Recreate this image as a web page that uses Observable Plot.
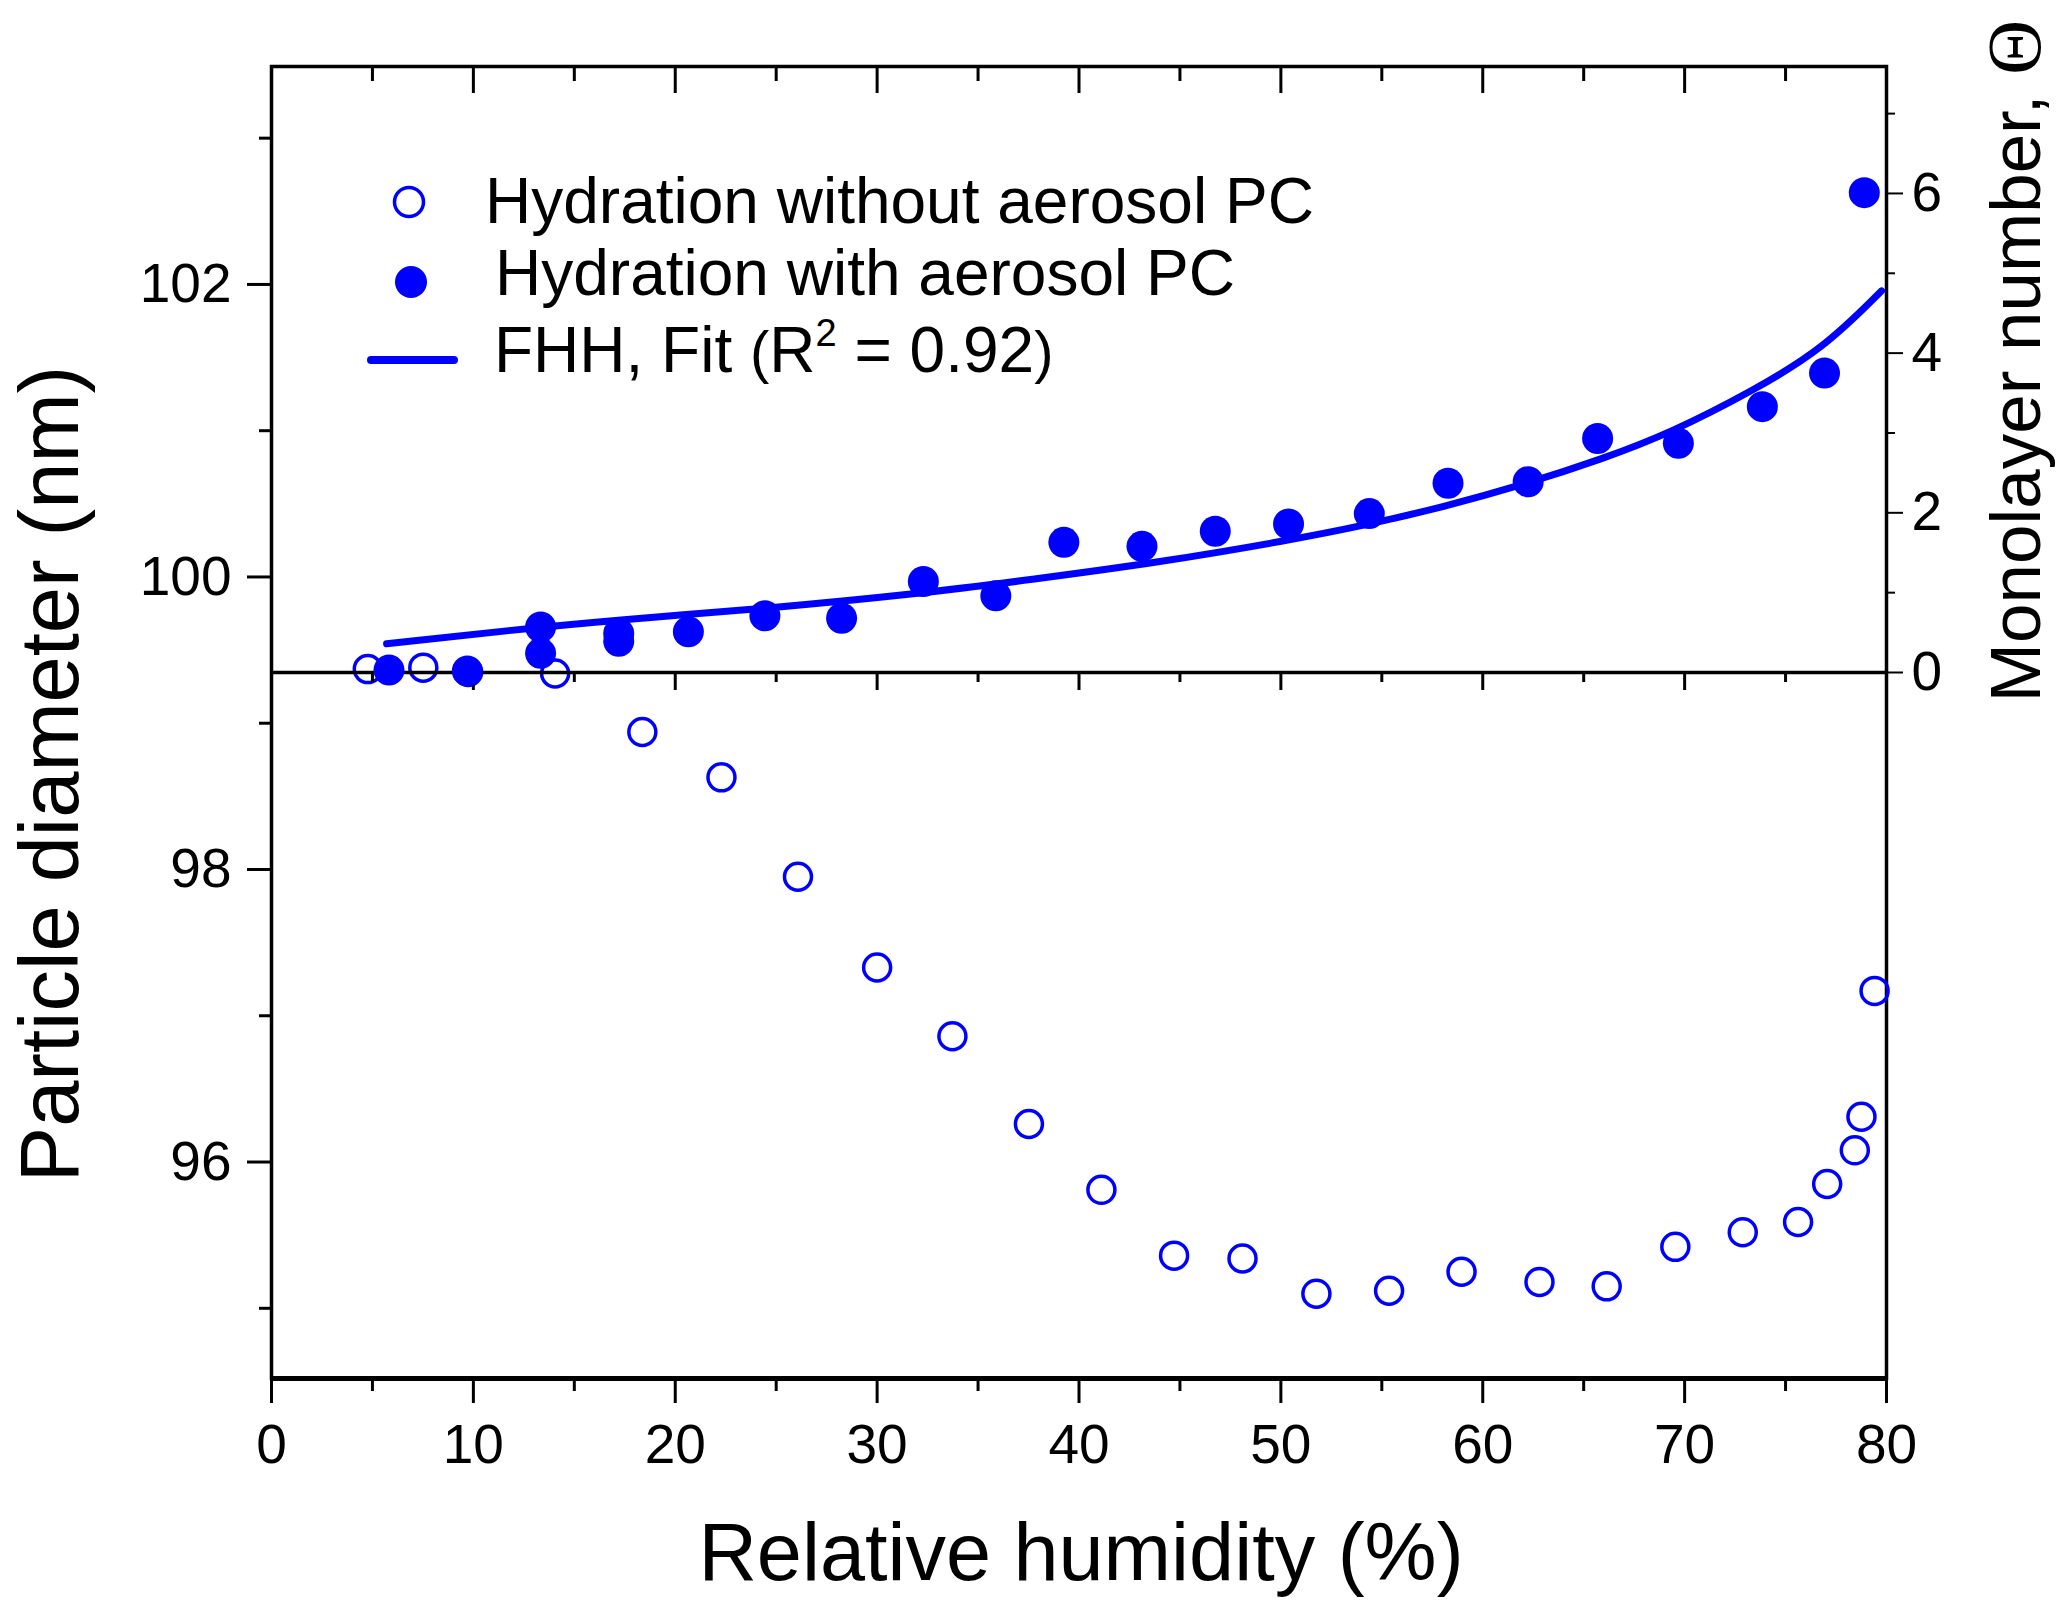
<!DOCTYPE html>
<html>
<head>
<meta charset="utf-8">
<script src="https://cdn.jsdelivr.net/npm/d3@7"></script>
<script src="https://cdn.jsdelivr.net/npm/@observablehq/plot@0.6"></script>
<style>
  html, body { margin: 0; padding: 0; background: #fff; }
  #wrap { position: relative; width: 2067px; height: 1615px; overflow: hidden; }
  #wrap > svg { position: absolute; left: 0; top: 0; }
</style>
</head>
<body>
<div id="wrap"></div>
<script>
// ---------- data ----------
const openX = [4.77, 7.52, 9.74, 14.05, 18.37, 22.29, 26.08, 30.0, 33.73, 37.52, 41.11, 44.71, 48.10, 51.76, 55.36, 58.95, 62.81, 66.14, 69.54, 72.88, 75.62, 77.06, 78.43, 78.76, 79.41];
const openD = [99.37, 99.38, 99.35, 99.34, 98.94, 98.63, 97.95, 97.33, 96.86, 96.26, 95.81, 95.36, 95.34, 95.10, 95.12, 95.25, 95.18, 95.15, 95.42, 95.52, 95.59, 95.85, 96.08, 96.31, 97.17];

const filledX = [5.82, 9.70, 13.33, 13.33, 17.2, 17.2, 20.65, 24.44, 28.24, 32.29, 35.88, 39.25, 43.12, 46.75, 50.38, 54.38, 58.28, 62.25, 65.69, 69.69, 73.85, 76.93, 78.9];
const filledT = [0.03, 0.02, 0.57, 0.24, 0.49, 0.39, 0.51, 0.71, 0.68, 1.14, 0.96, 1.63, 1.58, 1.77, 1.86, 1.99, 2.37, 2.39, 2.93, 2.87, 3.33, 3.75, 6.01];

const fitX = [5.7, 13.3, 19.2, 24.4, 32.2, 37.5, 44.0, 50.5, 54.1, 58.0, 62.0, 66.0, 69.3, 73.4, 76.85, 79.76];
const fitT = [0.36, 0.57, 0.70, 0.80, 0.99, 1.16, 1.38, 1.66, 1.84, 2.07, 2.35, 2.68, 3.00, 3.53, 4.05, 4.78];

const xDomain = [0, 80];
const dDomain = [94.52, 103.49];     // particle diameter (nm), full frame
const tDomain = [0, 7.59];           // monolayer number, upper layer
const xMajor = [0, 10, 20, 30, 40, 50, 60, 70, 80];
const xMinor = [5, 15, 25, 35, 45, 55, 65, 75];
const dMajor = [96, 98, 100, 102];
const dMinor = [95, 97, 99, 101, 103];
const tMajor = [0, 2, 4, 6];
const tMinor = [1, 3, 5, 7];

const legendLabels = ["Hydration without aerosol PC", "Hydration with aerosol PC"];
const xTitle = "Relative humidity (%)";
const yTitle = "Particle diameter (nm)";
const y2Title = "Monolayer number, ";

const BLUE = "#0000ff";
const FONT = "'Liberation Sans', Arial, Helvetica, sans-serif";

const openData = openX.map((x, i) => ({x, y: openD[i]}));
const filledData = filledX.map((x, i) => ({x, y: filledT[i]}));
const fitData = fitX.map((x, i) => ({x, y: fitT[i]}));

const W = 2067, H = 1615;
const mL = 271, mR = 181, mT = 66, mB = 237;

// ---------- layer 1: diameter (full frame) ----------
const base = Plot.plot({
  width: W, height: H,
  marginLeft: mL, marginRight: mR, marginTop: mT, marginBottom: mB,
  style: {fontFamily: FONT, fontSize: "55px", background: "transparent", overflow: "visible", color: "#000"},
  x: {domain: xDomain},
  y: {domain: dDomain},
  marks: [
    Plot.axisX(xMajor, {anchor: "bottom", tickSize: 25, tickPadding: 20, strokeWidth: 3, fontSize: 55, label: null, tickFormat: d => String(d)}),
    Plot.axisX(xMinor, {anchor: "bottom", tickSize: 13, strokeWidth: 3, label: null, tickFormat: () => ""}),
    Plot.axisX(xMajor, {anchor: "top", tickSize: -26, strokeWidth: 3, label: null, tickFormat: () => ""}),
    Plot.axisX(xMinor, {anchor: "top", tickSize: -14, strokeWidth: 3, label: null, tickFormat: () => ""}),
    Plot.axisY(dMajor, {anchor: "left", tickSize: 24, tickPadding: 16, strokeWidth: 3, fontSize: 55, label: null, tickFormat: d => String(d)}),
    Plot.axisY(dMinor, {anchor: "left", tickSize: 12, strokeWidth: 3, label: null, tickFormat: () => ""}),
    Plot.frame({stroke: "#000", strokeWidth: 3.5}),
    Plot.ruleY([dDomain[0]], {stroke: "#000", strokeWidth: 5}),
    Plot.dot(openData, {x: "x", y: "y", r: 13.5, stroke: BLUE, strokeWidth: 3.5, fill: "none"})
  ]
});

// ---------- layer 2: monolayer number (upper part) ----------
const H2 = 672 + 40;
const upper = Plot.plot({
  width: W, height: H2,
  marginLeft: mL, marginRight: mR, marginTop: mT, marginBottom: 40,
  style: {fontFamily: FONT, fontSize: "55px", background: "transparent", overflow: "visible", color: "#000"},
  x: {domain: xDomain},
  y: {domain: tDomain},
  marks: [
    Plot.ruleY([0], {stroke: "#000", strokeWidth: 3.5}),
    Plot.axisX(xMajor, {anchor: "bottom", tickSize: 18, strokeWidth: 3, label: null, tickFormat: () => ""}),
    Plot.axisX(xMinor, {anchor: "bottom", tickSize: 10, strokeWidth: 3, label: null, tickFormat: () => ""}),
    Plot.axisY(tMajor, {anchor: "right", tickSize: 16, tickPadding: 9, strokeWidth: 2, fontSize: 55, label: null, tickFormat: d => String(d)}),
    Plot.axisY(tMinor, {anchor: "right", tickSize: 8, strokeWidth: 2, label: null, tickFormat: () => ""}),
    Plot.line(fitData, {x: "x", y: "y", stroke: BLUE, strokeWidth: 7, curve: "basis", strokeLinecap: "round"}),
    Plot.dot(filledData, {x: "x", y: "y", r: 15.5, fill: BLUE, stroke: "none"})
  ]
});

const wrap = document.getElementById("wrap");
wrap.appendChild(base);
wrap.appendChild(upper);

// ---------- titles and legend overlay ----------
const ov = d3.select(wrap).append("svg")
  .attr("width", W).attr("height", H)
  .style("font-family", FONT).style("overflow", "visible");

ov.append("text")
  .attr("x", 1081).attr("y", 1580)
  .attr("text-anchor", "middle").attr("font-size", 81)
  .text(xTitle);

ov.append("text")
  .attr("transform", "translate(78,774) rotate(-90)")
  .attr("text-anchor", "middle").attr("font-size", 83)
  .text(yTitle);

const t2 = ov.append("text")
  .attr("transform", "translate(2040,361) rotate(-90)")
  .attr("text-anchor", "middle").attr("font-size", 71);
t2.append("tspan").text(y2Title);
t2.append("tspan").attr("font-family", "'Liberation Serif', 'DejaVu Serif', serif").attr("font-size", 76).text("Θ");

// legend
const lg = ov.append("g").attr("font-size", 64);
lg.append("circle").attr("cx", 409).attr("cy", 202).attr("r", 14.5)
  .attr("fill", "none").attr("stroke", BLUE).attr("stroke-width", 3.5);
lg.append("text").attr("x", 485).attr("y", 223).text(legendLabels[0]);

lg.append("circle").attr("cx", 411).attr("cy", 282).attr("r", 16).attr("fill", BLUE);
lg.append("text").attr("x", 495).attr("y", 295).text(legendLabels[1]);

lg.append("line").attr("x1", 371).attr("x2", 454).attr("y1", 360).attr("y2", 360)
  .attr("stroke", BLUE).attr("stroke-width", 8).attr("stroke-linecap", "round");
const t3 = lg.append("text").attr("x", 494).attr("y", 372);
t3.append("tspan").text("FHH, Fit ");
t3.append("tspan").attr("font-size", 58).text("(");
t3.append("tspan").text("R");
t3.append("tspan").attr("font-size", 38).attr("dy", -26).text("2");
t3.append("tspan").attr("dy", 26).text(" = 0.92");
t3.append("tspan").attr("font-size", 58).text(")");
</script>
</body>
</html>
